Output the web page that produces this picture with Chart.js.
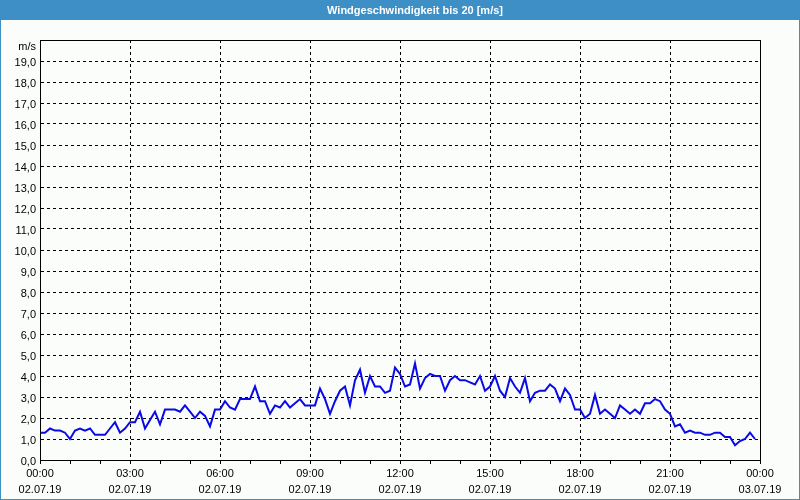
<!DOCTYPE html>
<html>
<head>
<meta charset="utf-8">
<script src="https://cdn.jsdelivr.net/npm/chart.js@4/dist/chart.umd.min.js"></script>
<style>
  html, body { margin: 0; padding: 0; background: #fbfdfb; }
  #wrap { width: 800px; height: 500px; position: relative; }
</style>
</head>
<body>
<div id="wrap"><canvas id="c" width="800" height="500"></canvas></div>
<script>
// ---- data ----
const chartTitle = 'Windgeschwindigkeit bis 20 [m/s]';
const yUnit = 'm/s';
const stepMinutes = 10; // one reading every 10 minutes, starting 02.07.19 00:00
const windSpeed = [
  1.3, 1.3, 1.5, 1.4, 1.4, 1.3, 1.0, 1.4, 1.5, 1.4, 1.5, 1.2, 1.2, 1.2, 1.5, 1.8, 1.3, 1.5,
  1.8, 1.8, 2.3, 1.5, 1.9, 2.3, 1.7, 2.4, 2.4, 2.4, 2.3, 2.6, 2.3, 2.0, 2.3, 2.1, 1.6, 2.4,
  2.4, 2.8, 2.5, 2.4, 2.9, 2.9, 2.9, 3.5, 2.8, 2.8, 2.2, 2.6, 2.5, 2.8, 2.5, 2.7, 2.9, 2.6,
  2.6, 2.6, 3.4, 2.9, 2.2, 2.8, 3.3, 3.5, 2.6, 3.8, 4.3, 3.2, 4.0, 3.5, 3.5, 3.2, 3.3, 4.4,
  4.1, 3.5, 3.6, 4.6, 3.4, 3.9, 4.1, 4.0, 4.0, 3.3, 3.8, 4.0, 3.8, 3.8, 3.7, 3.6, 4.0, 3.3,
  3.5, 4.0, 3.3, 3.0, 3.9, 3.5, 3.2, 3.9, 2.8, 3.2, 3.3, 3.3, 3.6, 3.4, 2.8, 3.4, 3.1, 2.4,
  2.4, 2.0, 2.2, 3.1, 2.2, 2.4, 2.2, 2.0, 2.6, 2.4, 2.2, 2.4, 2.2, 2.7, 2.7, 2.9, 2.8, 2.4,
  2.2, 1.6, 1.7, 1.3, 1.4, 1.3, 1.3, 1.2, 1.2, 1.3, 1.3, 1.1, 1.1, 0.7, 0.9, 1.0, 1.3, 1.0
];
const timeLabels = ['00:00', '03:00', '06:00', '09:00', '12:00', '15:00', '18:00', '21:00', '00:00'];
const dateLabels = ['02.07.19', '02.07.19', '02.07.19', '02.07.19', '02.07.19', '02.07.19', '02.07.19', '02.07.19', '03.07.19'];
const majorStepMinutes = 180;
const yMax = 20;

// ---- chart ----
const FONT = 'Liberation Sans, Arial, sans-serif';
const BLUE_BAR = '#3d8fc6';

const points = windSpeed.map((v, i) => ({ x: i * stepMinutes, y: v }));

const framePlugin = {
  id: 'frame',
  beforeDraw(chart) {
    const ctx = chart.ctx;
    ctx.save();
    ctx.fillStyle = '#fbfdfb';
    ctx.fillRect(0, 0, chart.width, chart.height);
    ctx.fillStyle = BLUE_BAR;
    ctx.fillRect(0, 0, chart.width, 20);
    ctx.strokeStyle = BLUE_BAR;
    ctx.lineWidth = 1;
    ctx.strokeRect(0.5, 0.5, chart.width - 1, chart.height - 1);
    ctx.fillStyle = '#ffffff';
    ctx.font = 'bold 11px ' + FONT;
    ctx.textAlign = 'center';
    ctx.textBaseline = 'middle';
    ctx.fillText(chartTitle, 415, 10.5);
    ctx.restore();
  },
  afterDraw(chart) {
    const ctx = chart.ctx;
    const a = chart.chartArea;
    ctx.save();
    ctx.strokeStyle = '#000';
    ctx.lineWidth = 1;
    ctx.setLineDash([]);
    ctx.strokeRect(Math.round(a.left) + 0.5, Math.round(a.top) + 0.5,
                   Math.round(a.right - a.left), Math.round(a.bottom - a.top));
    ctx.fillStyle = '#000';
    ctx.font = '11px ' + FONT;
    ctx.textAlign = 'right';
    ctx.textBaseline = 'middle';
    ctx.fillText(yUnit, a.left - 4, a.top + 7);
    ctx.restore();
  }
};

new Chart(document.getElementById('c'), {
  type: 'line',
  data: {
    datasets: [{
      data: points,
      borderColor: '#0a0ae6',
      borderWidth: 2,
      pointRadius: 0,
      tension: 0,
      fill: false
    }]
  },
  options: {
    responsive: false,
    animation: false,
    devicePixelRatio: 1,
    layout: { padding: { left: 0, right: 40, top: 40, bottom: 0 } },
    plugins: { legend: { display: false }, title: { display: false }, tooltip: { enabled: false } },
    scales: {
      x: {
        type: 'linear',
        min: 0,
        max: windSpeed.length * stepMinutes,
        afterFit(scale) { scale.height = 40; },
        ticks: {
          stepSize: 60,
          autoSkip: false,
          maxRotation: 0,
          minRotation: 0,
          padding: 2,
          color: '#000',
          font: { family: FONT, size: 11, lineHeight: 16 / 11 },
          callback(value) {
            if (value % majorStepMinutes !== 0) return '';
            const k = value / majorStepMinutes;
            return [timeLabels[k], dateLabels[k]];
          }
        },
        grid: {
          drawTicks: true,
          tickLength: 4,
          tickColor: '#000',
          lineWidth: 1,
          color(ctx) {
            const v = ctx.tick ? ctx.tick.value : 0;
            return (v % majorStepMinutes === 0) ? '#000' : 'rgba(0,0,0,0)';
          }
        },
        border: { display: true, color: '#000', width: 1, dash: [3, 3] }
      },
      y: {
        min: 0,
        max: yMax,
        afterFit(scale) { scale.width = 40; },
        ticks: {
          stepSize: 1,
          autoSkip: false,
          padding: 4,
          labelOffset: 2,
          color: '#000',
          font: { family: FONT, size: 11 },
          callback(value) {
            if (value >= yMax) return '';
            return value.toFixed(1).replace('.', ',');
          }
        },
        grid: {
          drawTicks: false,
          color: '#000',
          lineWidth: 1
        },
        border: { display: true, color: '#000', width: 1, dash: [3, 3] }
      }
    }
  },
  plugins: [framePlugin]
});
</script>
</body>
</html>
